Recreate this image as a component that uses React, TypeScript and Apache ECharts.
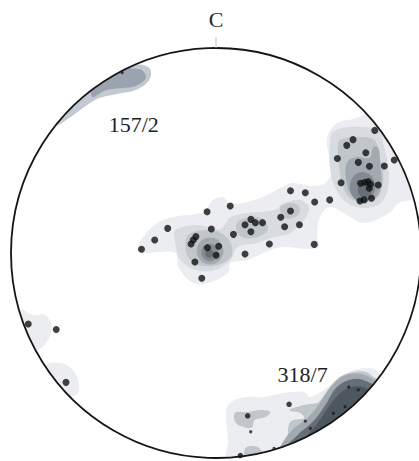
import React, { useEffect, useRef } from "react";
import * as echarts from "echarts";

// Stereonet units: primitive circle radius = 100, centre = (0, 0)
const NET_RADIUS = 100;
const NORTH_LABEL = "C";

// Poles (projected x, y)
const largePoles: number[][] = [
  [-36.7, 1.8], [-30.2, 6.3], [-23.8, 12.0], [-4.4, 20.1], [7.0, 22.9], [-2.3, 11.7],
  [-12.3, 4.4], [-11.2, 6.3], [-9.9, 8.0], [-4.2, 2.6], [1.3, 3.3], [0.1, -1.1],
  [-10.4, -4.4], [-7.0, -12.3], [8.6, 9.1], [14.3, -0.5], [14.3, 13.8], [17.2, 16.4],
  [19.4, 14.8], [22.9, 14.8], [17.2, 10.4], [26.3, 4.4], [31.9, 17.4], [36.7, 20.5],
  [33.8, 12.8], [41.1, 13.8], [36.7, 30.4], [44.0, 29.4], [48.6, 24.9], [48.4, 4.2],
  [56.0, 25.9], [61.6, 34.3], [59.8, 46.1], [70.1, 44.2], [73.8, 48.9], [75.6, 42.3],
  [82.9, 42.4], [87.8, 45.4], [78.2, 59.8], [67.5, 55.3], [64.4, 52.5], [71.2, 34.0],
  [73.3, 34.5], [75.0, 34.8], [76.1, 33.5], [79.9, 33.2], [75.5, 31.6], [70.9, 25.4],
  [73.0, 25.9], [76.6, 26.7], [-92.5, -34.6], [-78.7, -37.3], [-73.9, -63.1],
];
const mediumPoles: number[][] = [[36.0, -73.8], [15.6, -79.4], [12.0, -98.8]];
const smallPoles: number[][] = [
  [17.1, -87.2], [28.6, -95.3], [44.0, -82.0], [57.8, -78.2], [65.4, -65.4],
  [70.1, -66.8], [63.6, -75.0], [46.5, -85.5], [-46.2, 88.0],
];

// Maxima annotations (text, x, y)
const maximaLabels: [string, number, number][] = [
  ["157/2", -40.5, 62.7],
  ["318/7", 42.7, -59.3],
];

// Density contours (polygons), level 0 = lowest density
const bandL1: number[][] = [
  [-38.0, 3.9], [-35.6, 8.3], [-28.3, 15.1], [-18.5, 18.0], [-6.3, 20.0], [-1.5, 25.9],
  [3.4, 27.3], [6.8, 24.4], [13.2, 24.4], [22.9, 27.3], [32.7, 32.2], [37.6, 34.1],
  [47.3, 32.7], [53.7, 34.1], [57.1, 40.5], [54.6, 55.1], [59.5, 63.4], [69.3, 65.9],
  [75.1, 69.8], [78.0, 76.0], [99.5, 52.0], [101.0, 28.3], [90.2, 24.4], [85.4, 19.5],
  [72.7, 14.6], [62.9, 19.5], [56.1, 22.4], [51.2, 17.6], [49.8, 7.8], [50.7, 2.9],
  [44.9, 2.0], [33.7, 2.9], [26.8, 1.5], [15.6, -3.4], [7.3, -4.9], [5.9, -9.8],
  [-5.4, -15.1], [-12.2, -14.1], [-18.5, -6.8], [-20.0, 0], [-28.3, 0.5], [-34.6, 0],
  [-38.0, 1.5],
];
const bandL2: number[][] = [
  [-20.0, 11.2], [-8.8, 13.7], [2.0, 11.7], [7.3, 17.6], [15.6, 19.5], [28.8, 21.0],
  [33.7, 24.4], [41.5, 25.9], [45.9, 22.4], [43.4, 16.1], [36.6, 9.8], [26.8, 7.3],
  [20.5, 4.9], [10.7, 2.9], [7.3, -3.4], [-0.5, -8.3], [-10.2, -8.3], [-17.6, -3.4],
  [-20.0, 4.9],
];
const bandL3a: number[][] = [
  [-13.7, 8.8], [-5.4, 11.2], [2.4, 9.8], [7.3, 4.9], [7.3, -2.0], [1.0, -5.9],
  [-8.8, -5.9], [-13.7, -2.0], [-15.1, 3.9],
];
const bandL3b: number[][] = [
  [10.7, 15.1], [17.1, 17.6], [23.9, 16.1], [25.4, 11.2], [20.5, 7.8], [14.1, 7.3], [10.2, 10.2],
];
const bandL3c: number[][] = [
  [31.7, 22.4], [38.5, 24.4], [41.5, 21.0], [39.0, 17.6], [33.7, 17.1],
];
const eastL2: number[][] = [
  [57.1, 58.5], [62.0, 61.0], [70.7, 61.5], [80.5, 60.0], [82.4, 53.7], [84.9, 42.0],
  [84.9, 32.2], [82.4, 25.9], [77.6, 22.4], [69.3, 22.4], [62.9, 25.9], [58.5, 32.2],
  [56.1, 42.0], [56.1, 51.7],
];
const eastL3: number[][] = [
  [61.0, 55.1], [69.3, 56.6], [78.0, 55.1], [80.5, 46.8], [82.4, 39.0], [81.5, 30.7],
  [78.0, 25.9], [70.7, 24.9], [65.4, 27.3], [62.0, 34.1], [60.5, 43.9], [60.0, 51.7],
];
const eastL4: number[][] = [
  [64.4, 43.9], [69.3, 46.8], [75.6, 46.3], [77.6, 51.7], [80.0, 51.2], [81.0, 42.0],
  [81.5, 34.1], [79.0, 27.3], [72.7, 25.9], [66.8, 28.3], [64.4, 34.1],
];
const northL1: number[][] = [
  [-72.2, 65.9], [-64.9, 71.2], [-57.6, 75.6], [-48.8, 77.6], [-39.5, 79.5], [-33.2, 83.9],
  [-32.2, 89.3], [-36.1, 91.7], [-44.4, 92.0], [-52.7, 96.0], [-77.1, 76.0], [-79.5, 62.4],
];
const northL2: number[][] = [
  [-61.0, 76.1], [-54.1, 79.5], [-46.3, 80.5], [-39.5, 81.5], [-34.6, 85.4], [-36.6, 89.3],
  [-42.9, 90.5], [-45.4, 95.0], [-60.0, 85.0],
];
const westL1a: number[][] = [
  [-90.2, -30.2], [-84.4, -30.2], [-81.0, -35.1], [-82.0, -41.0], [-85.4, -45.9],
  [-88.3, -47.3], [-96.6, -42.4], [-96.6, -27.8],
];
const westL1b: number[][] = [
  [-82.0, -53.7], [-73.7, -54.6], [-68.8, -59.5], [-67.3, -65.4], [-68.8, -69.3],
  [-79.5, -71.7], [-86.8, -57.1],
];
const southL1: number[][] = [
  [5.9, -74.1], [12.2, -70.7], [23.9, -70.2], [33.7, -68.3], [43.4, -67.8], [46.3, -70.2],
  [53.2, -66.8], [61.0, -60.5], [67.8, -57.1], [75.6, -56.1], [80.0, -58.0], [88.8, -71.7],
  [40.0, -105.9], [4.9, -105.9], [4.9, -98.5], [5.9, -91.2], [4.9, -80.0],
];
const southL2a: number[][] = [
  [9.3, -78.0], [15.6, -77.6], [22.0, -76.6], [26.8, -77.6], [24.4, -80.0], [19.0, -81.5],
  [18.0, -84.9], [15.6, -85.4], [9.8, -82.9],
];
const southL2b: number[][] = [
  [14.6, -95.1], [20.5, -94.6], [22.9, -97.6], [22.9, -102.0], [14.6, -102.0],
];
const southL2c: number[][] = [
  [36.1, -76.6], [43.4, -74.1], [49.8, -73.2], [52.2, -70.7], [56.1, -65.4], [61.0, -60.5],
  [67.8, -58.0], [74.1, -58.0], [77.6, -60.5], [88.8, -66.8], [49.8, -105.9], [32.7, -101.0],
  [32.7, -96.1], [35.1, -89.8], [36.6, -82.4], [43.4, -80.5], [41.5, -78.0],
];
const southL3: number[][] = [
  [38.0, -86.0], [45.0, -80.5], [51.0, -73.5], [56.5, -65.5], [62.5, -60.0], [70.0, -58.8],
  [76.5, -61.0], [88.0, -70.0], [45.0, -106.0], [30.0, -100.0], [32.5, -93.0],
];
const southL4: number[][] = [
  [40.0, -89.0], [48.0, -82.0], [54.0, -74.0], [59.0, -66.0], [65.5, -62.0], [72.5, -62.0],
  [86.0, -71.0], [45.0, -106.0], [33.0, -97.5],
];
const southL5: number[][] = [
  [50.0, -83.0], [56.0, -74.5], [61.5, -68.0], [68.0, -65.0], [74.0, -66.0], [82.0, -71.0],
  [50.0, -96.0], [43.0, -93.0],
];

// Density maxima cores: [cx, cy, rx, ry, level]
const cores: number[][] = [
  [-2.9, 1.0, 6.6, 6.6, 3],
  [-3.1, 0.3, 4.2, 4.2, 4],
  [-3.2, -0.3, 2.1, 2.1, 5],
  [72.2, 32.2, 6.3, 7.3, 4],
  [73.2, 30.7, 3.4, 3.8, 5],
];

// contour list: [polygon, level]
const contourList: [number[][], number][] = [
  [bandL1, 0], [bandL2, 1], [bandL3a, 2], [bandL3b, 2], [bandL3c, 2],
  [eastL2, 1], [eastL3, 2], [eastL4, 3],
  [northL1, 10], [northL2, 11],
  [westL1a, 0], [westL1b, 0],
  [southL1, 0], [southL2a, 2], [southL2b, 2], [southL2c, 2], [southL3, 3], [southL4, 5], [southL5, 6],
];

const LEVEL_COLORS: Record<number, string> = {
  0: "#ebedf0",
  1: "#d8dce0",
  2: "#c1c6cb",
  3: "#a3a9b0",
  4: "#838a91",
  5: "#666f77",
  6: "#4e575e",
  10: "#c3c9d0",
  11: "#9ba4ae",
};

export default function App() {
  const ref = useRef<HTMLDivElement>(null);

  useEffect(() => {
    if (!ref.current) return;
    const chart = echarts.init(ref.current, undefined, { renderer: "svg" });

    const option: any = {
      animation: false,
      backgroundColor: "#ffffff",
      grid: { left: 13, top: 48, width: 410, height: 410 },
      xAxis: { type: "value", min: -NET_RADIUS, max: NET_RADIUS, show: false },
      yAxis: { type: "value", min: -NET_RADIUS, max: NET_RADIUS, show: false },
      series: [
        {
          type: "custom",
          z: 1,
          silent: true,
          data: contourList.map((_, i) => [i, 0]),
          renderItem: (params: any, api: any) => {
            const [poly, level] = contourList[params.dataIndex];
            return {
              type: "polygon",
              z2: params.dataIndex,
              shape: { points: poly.map((p) => api.coord(p)), smooth: 0.35 },
              style: { fill: LEVEL_COLORS[level], stroke: null },
            };
          },
        },
        {
          type: "custom",
          z: 2,
          silent: true,
          data: cores.map((_, i) => [i, 0]),
          renderItem: (params: any, api: any) => {
            const [cx, cy, rx, ry, level] = cores[params.dataIndex];
            const c = api.coord([cx, cy]);
            const s = api.size([rx, ry]);
            return {
              type: "ellipse",
              z2: params.dataIndex,
              shape: { cx: c[0], cy: c[1], rx: s[0], ry: s[1] },
              style: { fill: LEVEL_COLORS[level], stroke: null },
            };
          },
        },
        {
          type: "custom",
          z: 3,
          silent: true,
          data: [[0, 0]],
          renderItem: (params: any, api: any) => {
            const c = api.coord([0, 0]);
            const top = api.coord([0, NET_RADIUS]);
            const R = c[1] - top[1];
            return {
              type: "group",
              children: [
                {
                  type: "ring",
                  shape: { cx: c[0], cy: c[1], r: R + 420, r0: R },
                  style: { fill: "#ffffff", stroke: null },
                },
                {
                  type: "circle",
                  shape: { cx: c[0], cy: c[1], r: R },
                  style: { fill: null, stroke: "#151515", lineWidth: 1.8 },
                },
                {
                  type: "line",
                  shape: { x1: top[0], y1: top[1] - 11, x2: top[0], y2: top[1] },
                  style: { stroke: "#bdbdbd", lineWidth: 1 },
                },
                {
                  type: "text",
                  x: top[0],
                  y: top[1] - 29,
                  style: {
                    text: NORTH_LABEL,
                    fill: "#2a2a2a",
                    font: "22px 'Liberation Serif', serif",
                    align: "center",
                    verticalAlign: "middle",
                  },
                },
              ],
            };
          },
        },
        {
          type: "custom",
          z: 6,
          silent: true,
          data: maximaLabels.map((_, i) => [i, 0]),
          renderItem: (params: any, api: any) => {
            const [txt, x, y] = maximaLabels[params.dataIndex];
            const p = api.coord([x, y]);
            return {
              type: "text",
              x: p[0],
              y: p[1],
              style: {
                text: txt,
                fill: "#1e1e1e",
                font: "22px 'Liberation Serif', serif",
                align: "center",
                verticalAlign: "middle",
              },
            };
          },
        },
        {
          type: "scatter",
          z: 5,
          silent: true,
          symbolSize: 7,
          itemStyle: { color: "#111111" },
          data: largePoles,
        },
        {
          type: "scatter",
          z: 5,
          silent: true,
          symbolSize: 5.5,
          itemStyle: { color: "#111111" },
          data: mediumPoles,
        },
        {
          type: "scatter",
          z: 5,
          silent: true,
          symbolSize: 3.2,
          itemStyle: { color: "#1a1a1a" },
          data: smallPoles,
        },
      ],
    };

    chart.setOption(option);
    return () => chart.dispose();
  }, []);

  return (
    <div
      ref={ref}
      style={{ position: "absolute", left: 0, top: 0, width: 419, height: 461 }}
    />
  );
}
